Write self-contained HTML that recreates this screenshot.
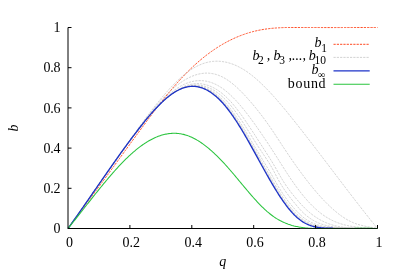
<!DOCTYPE html>
<html><head><meta charset="utf-8"><title>plot</title>
<style>
html,body{margin:0;padding:0;background:#fff;}
body{width:400px;height:280px;overflow:hidden;}
svg{display:block;}
text{font-family:"Liberation Serif",serif;fill:#000;}
.t{font-size:14px;}
.i{font-style:italic;}
.s{font-size:11.5px;font-style:normal;}
.g{fill:none;stroke:#b4b4b4;stroke-width:0.6;stroke-dasharray:2.2 1.1;}
</style></head><body>
<svg width="400" height="280" viewBox="0 0 400 280">
<rect x="0" y="0" width="400" height="280" fill="#fff"/>
<path d="M68.00,228.50 L68.97,227.17 L69.94,225.84 L70.91,224.52 L71.88,223.19 L72.85,221.87 L73.82,220.55 L74.79,219.23 L75.76,217.92 L76.73,216.60 L77.70,215.29 L78.67,213.98 L79.64,212.66 L80.61,211.35 L81.58,210.04 L82.55,208.73 L83.52,207.42 L84.49,206.12 L85.46,204.81 L86.43,203.50 L87.40,202.19 L88.37,200.89 L89.34,199.58 L90.32,198.27 L91.29,196.96 L92.26,195.65 L93.23,194.35 L94.20,193.04 L95.17,191.73 L96.14,190.42 L97.11,189.10 L98.08,187.79 L99.05,186.48 L100.02,185.16 L100.99,183.85 L101.96,182.53 L102.93,181.21 L103.90,179.89 L104.87,178.57 L105.84,177.24 L106.81,175.92 L107.78,174.59 L108.75,173.26 L109.72,171.93 L110.69,170.61 L111.66,169.27 L112.63,167.94 L113.60,166.61 L114.57,165.28 L115.54,163.94 L116.51,162.61 L117.48,161.28 L118.45,159.94 L119.42,158.61 L120.39,157.27 L121.36,155.94 L122.33,154.60 L123.30,153.26 L124.27,151.93 L125.24,150.59 L126.21,149.26 L127.18,147.92 L128.15,146.59 L129.12,145.25 L130.09,143.92 L131.06,142.59 L132.03,141.26 L133.00,139.92 L133.97,138.59 L134.95,137.26 L135.92,135.94 L136.89,134.61 L137.86,133.28 L138.83,131.96 L139.80,130.63 L140.77,129.31 L141.74,127.99 L142.71,126.67 L143.68,125.35 L144.65,124.04 L145.62,122.73 L146.59,121.42 L147.56,120.11 L148.53,118.81 L149.50,117.51 L150.47,116.21 L151.44,114.92 L152.41,113.63 L153.38,112.35 L154.35,111.07 L155.32,109.80 L156.29,108.53 L157.26,107.27 L158.23,106.01 L159.20,104.76 L160.17,103.51 L161.14,102.27 L162.11,101.04 L163.08,99.81 L164.05,98.60 L165.02,97.38 L165.99,96.18 L166.96,94.98 L167.93,93.80 L168.90,92.62 L169.87,91.45 L170.84,90.28 L171.81,89.13 L172.78,87.99 L173.75,86.85 L174.72,85.73 L175.69,84.61 L176.66,83.51 L177.63,82.41 L178.61,81.33 L179.58,80.25 L180.55,79.19 L181.52,78.14 L182.49,77.10 L183.46,76.08 L184.43,75.06 L185.40,74.06 L186.37,73.07 L187.34,72.09 L188.31,71.12 L189.28,70.17 L190.25,69.22 L191.22,68.29 L192.19,67.37 L193.16,66.46 L194.13,65.56 L195.10,64.68 L196.07,63.81 L197.04,62.94 L198.01,62.09 L198.98,61.25 L199.95,60.43 L200.92,59.61 L201.89,58.81 L202.86,58.01 L203.83,57.23 L204.80,56.46 L205.77,55.70 L206.74,54.95 L207.71,54.21 L208.68,53.49 L209.65,52.77 L210.62,52.07 L211.59,51.38 L212.56,50.70 L213.53,50.02 L214.50,49.37 L215.47,48.72 L216.44,48.08 L217.41,47.45 L218.38,46.83 L219.35,46.23 L220.32,45.63 L221.29,45.05 L222.26,44.48 L223.24,43.91 L224.21,43.36 L225.18,42.82 L226.15,42.29 L227.12,41.77 L228.09,41.26 L229.06,40.76 L230.03,40.27 L231.00,39.79 L231.97,39.32 L232.94,38.86 L233.91,38.42 L234.88,37.98 L235.85,37.55 L236.82,37.13 L237.79,36.72 L238.76,36.33 L239.73,35.94 L240.70,35.56 L241.67,35.19 L242.64,34.84 L243.61,34.49 L244.58,34.15 L245.55,33.82 L246.52,33.50 L247.49,33.19 L248.46,32.89 L249.43,32.60 L250.40,32.32 L251.37,32.05 L252.34,31.79 L253.31,31.53 L254.28,31.29 L255.25,31.05 L256.22,30.83 L257.19,30.61 L258.16,30.40 L259.13,30.20 L260.10,30.01 L261.07,29.83 L262.04,29.66 L263.01,29.49 L263.98,29.34 L264.95,29.19 L265.92,29.05 L266.89,28.91 L267.87,28.79 L268.84,28.67 L269.81,28.56 L270.78,28.45 L271.75,28.35 L272.72,28.26 L273.69,28.17 L274.66,28.09 L275.63,28.02 L276.60,27.95 L277.57,27.88 L278.54,27.82 L279.51,27.77 L280.48,27.72 L281.45,27.67 L282.42,27.63 L283.39,27.59 L284.36,27.56 L285.33,27.53 L286.30,27.50 L287.27,27.50 L288.24,27.50 L289.21,27.50 L290.18,27.50 L291.15,27.50 L292.12,27.50 L293.09,27.50 L294.06,27.50 L295.03,27.50 L296.00,27.50 L296.97,27.50 L297.94,27.50 L298.91,27.50 L299.88,27.50 L300.85,27.50 L301.82,27.50 L302.79,27.50 L303.76,27.50 L304.73,27.50 L305.70,27.50 L306.67,27.50 L307.64,27.50 L308.61,27.50 L309.58,27.50 L310.55,27.50 L311.53,27.50 L312.50,27.50 L313.47,27.50 L314.44,27.50 L315.41,27.50 L316.38,27.50 L317.35,27.51 L318.32,27.52 L319.29,27.53 L320.26,27.54 L321.23,27.54 L322.20,27.55 L323.17,27.55 L324.14,27.56 L325.11,27.56 L326.08,27.56 L327.05,27.57 L328.02,27.57 L328.99,27.57 L329.96,27.57 L330.93,27.57 L331.90,27.57 L332.87,27.57 L333.84,27.57 L334.81,27.57 L335.78,27.56 L336.75,27.56 L337.72,27.56 L338.69,27.56 L339.66,27.55 L340.63,27.55 L341.60,27.55 L342.57,27.54 L343.54,27.54 L344.51,27.53 L345.48,27.53 L346.45,27.53 L347.42,27.52 L348.39,27.52 L349.36,27.51 L350.33,27.51 L351.30,27.50 L352.27,27.50 L353.24,27.50 L354.21,27.50 L355.18,27.50 L356.16,27.50 L357.13,27.50 L358.10,27.50 L359.07,27.50 L360.04,27.50 L361.01,27.50 L361.98,27.50 L362.95,27.50 L363.92,27.50 L364.89,27.50 L365.86,27.50 L366.83,27.50 L367.80,27.50 L368.77,27.50 L369.74,27.50 L370.71,27.50 L371.68,27.50 L372.65,27.50 L373.62,27.50 L374.59,27.50 L375.56,27.50 L376.53,27.50 L377.50,27.50" fill="none" stroke="#ff4a22" stroke-width="1" stroke-dasharray="2.2 1.1"/>
<path class="g" d="M68.00,228.50 L68.97,227.14 L69.94,225.78 L70.91,224.41 L71.88,223.05 L72.85,221.68 L73.82,220.31 L74.79,218.94 L75.76,217.56 L76.73,216.19 L77.70,214.82 L78.67,213.44 L79.64,212.06 L80.61,210.68 L81.58,209.30 L82.55,207.92 L83.52,206.53 L84.49,205.15 L85.46,203.76 L86.43,202.38 L87.40,200.99 L88.37,199.60 L89.34,198.21 L90.32,196.82 L91.29,195.43 L92.26,194.04 L93.23,192.65 L94.20,191.26 L95.17,189.87 L96.14,188.47 L97.11,187.08 L98.08,185.69 L99.05,184.29 L100.02,182.90 L100.99,181.51 L101.96,180.11 L102.93,178.72 L103.90,177.32 L104.87,175.93 L105.84,174.53 L106.81,173.14 L107.78,171.75 L108.75,170.35 L109.72,168.96 L110.69,167.57 L111.66,166.17 L112.63,164.78 L113.60,163.39 L114.57,162.00 L115.54,160.61 L116.51,159.22 L117.48,157.83 L118.45,156.45 L119.42,155.06 L120.39,153.67 L121.36,152.29 L122.33,150.90 L123.30,149.52 L124.27,148.14 L125.24,146.76 L126.21,145.38 L127.18,144.00 L128.15,142.63 L129.12,141.25 L130.09,139.88 L131.06,138.51 L132.03,137.14 L133.00,135.77 L133.97,134.41 L134.95,133.05 L135.92,131.69 L136.89,130.33 L137.86,128.98 L138.83,127.64 L139.80,126.30 L140.77,124.96 L141.74,123.63 L142.71,122.30 L143.68,120.98 L144.65,119.67 L145.62,118.36 L146.59,117.06 L147.56,115.76 L148.53,114.47 L149.50,113.19 L150.47,111.92 L151.44,110.65 L152.41,109.39 L153.38,108.15 L154.35,106.90 L155.32,105.67 L156.29,104.45 L157.26,103.24 L158.23,102.03 L159.20,100.84 L160.17,99.66 L161.14,98.49 L162.11,97.32 L163.08,96.18 L164.05,95.04 L165.02,93.91 L165.99,92.80 L166.96,91.70 L167.93,90.61 L168.90,89.54 L169.87,88.48 L170.84,87.44 L171.81,86.41 L172.78,85.39 L173.75,84.39 L174.72,83.41 L175.69,82.45 L176.66,81.50 L177.63,80.57 L178.61,79.65 L179.58,78.76 L180.55,77.88 L181.52,77.02 L182.49,76.18 L183.46,75.37 L184.43,74.57 L185.40,73.79 L186.37,73.03 L187.34,72.29 L188.31,71.58 L189.28,70.88 L190.25,70.21 L191.22,69.56 L192.19,68.94 L193.16,68.34 L194.13,67.76 L195.10,67.21 L196.07,66.68 L197.04,66.18 L198.01,65.70 L198.98,65.24 L199.95,64.81 L200.92,64.41 L201.89,64.03 L202.86,63.67 L203.83,63.34 L204.80,63.04 L205.77,62.75 L206.74,62.49 L207.71,62.26 L208.68,62.05 L209.65,61.86 L210.62,61.70 L211.59,61.56 L212.56,61.44 L213.53,61.35 L214.50,61.28 L215.47,61.23 L216.44,61.21 L217.41,61.21 L218.38,61.23 L219.35,61.28 L220.32,61.35 L221.29,61.44 L222.26,61.55 L223.24,61.69 L224.21,61.84 L225.18,62.02 L226.15,62.23 L227.12,62.45 L228.09,62.70 L229.06,62.97 L230.03,63.26 L231.00,63.57 L231.97,63.90 L232.94,64.26 L233.91,64.64 L234.88,65.03 L235.85,65.45 L236.82,65.89 L237.79,66.36 L238.76,66.84 L239.73,67.34 L240.70,67.87 L241.67,68.41 L242.64,68.98 L243.61,69.56 L244.58,70.17 L245.55,70.79 L246.52,71.44 L247.49,72.11 L248.46,72.79 L249.43,73.50 L250.40,74.23 L251.37,74.97 L252.34,75.73 L253.31,76.51 L254.28,77.31 L255.25,78.12 L256.22,78.95 L257.19,79.80 L258.16,80.67 L259.13,81.55 L260.10,82.44 L261.07,83.35 L262.04,84.28 L263.01,85.22 L263.98,86.17 L264.95,87.14 L265.92,88.12 L266.89,89.11 L267.87,90.12 L268.84,91.14 L269.81,92.17 L270.78,93.21 L271.75,94.26 L272.72,95.33 L273.69,96.40 L274.66,97.48 L275.63,98.58 L276.60,99.68 L277.57,100.80 L278.54,101.92 L279.51,103.05 L280.48,104.19 L281.45,105.33 L282.42,106.49 L283.39,107.65 L284.36,108.81 L285.33,109.99 L286.30,111.17 L287.27,112.35 L288.24,113.54 L289.21,114.74 L290.18,115.93 L291.15,117.14 L292.12,118.35 L293.09,119.56 L294.06,120.77 L295.03,121.99 L296.00,123.21 L296.97,124.43 L297.94,125.66 L298.91,126.89 L299.88,128.12 L300.85,129.35 L301.82,130.59 L302.79,131.83 L303.76,133.07 L304.73,134.32 L305.70,135.56 L306.67,136.81 L307.64,138.06 L308.61,139.32 L309.58,140.57 L310.55,141.83 L311.53,143.09 L312.50,144.35 L313.47,145.61 L314.44,146.87 L315.41,148.14 L316.38,149.40 L317.35,150.67 L318.32,151.94 L319.29,153.21 L320.26,154.48 L321.23,155.76 L322.20,157.03 L323.17,158.30 L324.14,159.58 L325.11,160.85 L326.08,162.13 L327.05,163.41 L328.02,164.68 L328.99,165.96 L329.96,167.24 L330.93,168.52 L331.90,169.80 L332.87,171.07 L333.84,172.35 L334.81,173.63 L335.78,174.91 L336.75,176.19 L337.72,177.46 L338.69,178.74 L339.66,180.01 L340.63,181.29 L341.60,182.57 L342.57,183.84 L343.54,185.11 L344.51,186.38 L345.48,187.66 L346.45,188.93 L347.42,190.19 L348.39,191.46 L349.36,192.73 L350.33,193.99 L351.30,195.26 L352.27,196.52 L353.24,197.78 L354.21,199.04 L355.18,200.29 L356.16,201.55 L357.13,202.80 L358.10,204.05 L359.07,205.30 L360.04,206.54 L361.01,207.79 L361.98,209.03 L362.95,210.27 L363.92,211.50 L364.89,212.74 L365.86,213.97 L366.83,215.20 L367.80,216.42 L368.77,217.65 L369.74,218.86 L370.71,220.08 L371.68,221.29 L372.65,222.50 L373.62,223.71 L374.59,224.91 L375.56,226.11 L376.53,227.31 L377.50,228.50"/>
<path class="g" d="M68.00,228.50 L68.97,227.12 L69.94,225.75 L70.91,224.37 L71.88,222.99 L72.85,221.62 L73.82,220.24 L74.79,218.86 L75.76,217.48 L76.73,216.10 L77.70,214.72 L78.67,213.34 L79.64,211.96 L80.61,210.58 L81.58,209.20 L82.55,207.82 L83.52,206.43 L84.49,205.05 L85.46,203.67 L86.43,202.29 L87.40,200.90 L88.37,199.52 L89.34,198.14 L90.32,196.75 L91.29,195.37 L92.26,193.99 L93.23,192.60 L94.20,191.22 L95.17,189.83 L96.14,188.45 L97.11,187.06 L98.08,185.68 L99.05,184.29 L100.02,182.91 L100.99,181.52 L101.96,180.14 L102.93,178.75 L103.90,177.37 L104.87,175.98 L105.84,174.60 L106.81,173.21 L107.78,171.83 L108.75,170.44 L109.72,169.06 L110.69,167.67 L111.66,166.29 L112.63,164.90 L113.60,163.52 L114.57,162.13 L115.54,160.75 L116.51,159.36 L117.48,157.98 L118.45,156.60 L119.42,155.21 L120.39,153.83 L121.36,152.45 L122.33,151.06 L123.30,149.68 L124.27,148.30 L125.24,146.92 L126.21,145.54 L127.18,144.17 L128.15,142.80 L129.12,141.43 L130.09,140.06 L131.06,138.70 L132.03,137.34 L133.00,135.99 L133.97,134.64 L134.95,133.30 L135.92,131.96 L136.89,130.63 L137.86,129.30 L138.83,127.98 L139.80,126.67 L140.77,125.37 L141.74,124.07 L142.71,122.78 L143.68,121.50 L144.65,120.23 L145.62,118.97 L146.59,117.72 L147.56,116.47 L148.53,115.24 L149.50,114.02 L150.47,112.81 L151.44,111.61 L152.41,110.42 L153.38,109.25 L154.35,108.08 L155.32,106.93 L156.29,105.80 L157.26,104.67 L158.23,103.57 L159.20,102.47 L160.17,101.39 L161.14,100.33 L162.11,99.28 L163.08,98.24 L164.05,97.22 L165.02,96.22 L165.99,95.24 L166.96,94.27 L167.93,93.32 L168.90,92.39 L169.87,91.47 L170.84,90.58 L171.81,89.70 L172.78,88.85 L173.75,88.01 L174.72,87.19 L175.69,86.40 L176.66,85.62 L177.63,84.87 L178.61,84.13 L179.58,83.42 L180.55,82.73 L181.52,82.06 L182.49,81.41 L183.46,80.79 L184.43,80.19 L185.40,79.61 L186.37,79.05 L187.34,78.52 L188.31,78.01 L189.28,77.52 L190.25,77.06 L191.22,76.62 L192.19,76.21 L193.16,75.82 L194.13,75.46 L195.10,75.12 L196.07,74.81 L197.04,74.52 L198.01,74.26 L198.98,74.02 L199.95,73.82 L200.92,73.64 L201.89,73.48 L202.86,73.35 L203.83,73.26 L204.80,73.18 L205.77,73.14 L206.74,73.12 L207.71,73.14 L208.68,73.18 L209.65,73.25 L210.62,73.35 L211.59,73.48 L212.56,73.64 L213.53,73.83 L214.50,74.05 L215.47,74.30 L216.44,74.58 L217.41,74.89 L218.38,75.23 L219.35,75.61 L220.32,76.01 L221.29,76.45 L222.26,76.92 L223.24,77.42 L224.21,77.95 L225.18,78.52 L226.15,79.11 L227.12,79.73 L228.09,80.38 L229.06,81.06 L230.03,81.76 L231.00,82.49 L231.97,83.25 L232.94,84.03 L233.91,84.84 L234.88,85.67 L235.85,86.52 L236.82,87.40 L237.79,88.29 L238.76,89.21 L239.73,90.15 L240.70,91.12 L241.67,92.09 L242.64,93.09 L243.61,94.11 L244.58,95.14 L245.55,96.19 L246.52,97.25 L247.49,98.33 L248.46,99.41 L249.43,100.52 L250.40,101.63 L251.37,102.75 L252.34,103.89 L253.31,105.04 L254.28,106.21 L255.25,107.38 L256.22,108.57 L257.19,109.78 L258.16,110.99 L259.13,112.23 L260.10,113.47 L261.07,114.73 L262.04,116.00 L263.01,117.29 L263.98,118.59 L264.95,119.91 L265.92,121.24 L266.89,122.59 L267.87,123.96 L268.84,125.34 L269.81,126.73 L270.78,128.14 L271.75,129.57 L272.72,131.01 L273.69,132.45 L274.66,133.91 L275.63,135.38 L276.60,136.85 L277.57,138.33 L278.54,139.81 L279.51,141.29 L280.48,142.77 L281.45,144.25 L282.42,145.73 L283.39,147.20 L284.36,148.67 L285.33,150.14 L286.30,151.59 L287.27,153.04 L288.24,154.49 L289.21,155.92 L290.18,157.35 L291.15,158.76 L292.12,160.17 L293.09,161.57 L294.06,162.97 L295.03,164.35 L296.00,165.72 L296.97,167.09 L297.94,168.44 L298.91,169.78 L299.88,171.12 L300.85,172.44 L301.82,173.76 L302.79,175.06 L303.76,176.35 L304.73,177.63 L305.70,178.90 L306.67,180.16 L307.64,181.41 L308.61,182.65 L309.58,183.87 L310.55,185.08 L311.53,186.28 L312.50,187.47 L313.47,188.64 L314.44,189.80 L315.41,190.95 L316.38,192.09 L317.35,193.21 L318.32,194.32 L319.29,195.41 L320.26,196.49 L321.23,197.56 L322.20,198.61 L323.17,199.64 L324.14,200.67 L325.11,201.67 L326.08,202.66 L327.05,203.64 L328.02,204.60 L328.99,205.54 L329.96,206.46 L330.93,207.37 L331.90,208.26 L332.87,209.13 L333.84,209.98 L334.81,210.82 L335.78,211.63 L336.75,212.43 L337.72,213.21 L338.69,213.96 L339.66,214.70 L340.63,215.41 L341.60,216.11 L342.57,216.78 L343.54,217.43 L344.51,218.06 L345.48,218.67 L346.45,219.25 L347.42,219.81 L348.39,220.35 L349.36,220.87 L350.33,221.36 L351.30,221.82 L352.27,222.26 L353.24,222.68 L354.21,223.07 L355.18,223.44 L356.16,223.79 L357.13,224.12 L358.10,224.43 L359.07,224.72 L360.04,224.99 L361.01,225.25 L361.98,225.49 L362.95,225.72 L363.92,225.94 L364.89,226.15 L365.86,226.35 L366.83,226.55 L367.80,226.73 L368.77,226.91 L369.74,227.09 L370.71,227.26 L371.68,227.43 L372.65,227.61 L373.62,227.78 L374.59,227.95 L375.56,228.13 L376.53,228.31 L377.50,228.50"/>
<path class="g" d="M68.00,228.50 L68.97,227.13 L69.94,225.77 L70.91,224.40 L71.88,223.03 L72.85,221.66 L73.82,220.28 L74.79,218.91 L75.76,217.53 L76.73,216.16 L77.70,214.78 L78.67,213.40 L79.64,212.02 L80.61,210.63 L81.58,209.25 L82.55,207.87 L83.52,206.48 L84.49,205.10 L85.46,203.71 L86.43,202.33 L87.40,200.94 L88.37,199.55 L89.34,198.16 L90.32,196.78 L91.29,195.39 L92.26,194.00 L93.23,192.61 L94.20,191.22 L95.17,189.84 L96.14,188.45 L97.11,187.06 L98.08,185.67 L99.05,184.29 L100.02,182.90 L100.99,181.51 L101.96,180.13 L102.93,178.74 L103.90,177.36 L104.87,175.97 L105.84,174.59 L106.81,173.21 L107.78,171.83 L108.75,170.45 L109.72,169.07 L110.69,167.70 L111.66,166.32 L112.63,164.95 L113.60,163.57 L114.57,162.20 L115.54,160.83 L116.51,159.46 L117.48,158.10 L118.45,156.73 L119.42,155.37 L120.39,154.01 L121.36,152.65 L122.33,151.29 L123.30,149.94 L124.27,148.59 L125.24,147.24 L126.21,145.89 L127.18,144.55 L128.15,143.20 L129.12,141.86 L130.09,140.53 L131.06,139.19 L132.03,137.86 L133.00,136.54 L133.97,135.22 L134.95,133.90 L135.92,132.59 L136.89,131.29 L137.86,129.99 L138.83,128.70 L139.80,127.42 L140.77,126.14 L141.74,124.87 L142.71,123.62 L143.68,122.37 L144.65,121.13 L145.62,119.90 L146.59,118.68 L147.56,117.47 L148.53,116.28 L149.50,115.09 L150.47,113.92 L151.44,112.76 L152.41,111.61 L153.38,110.48 L154.35,109.36 L155.32,108.26 L156.29,107.17 L157.26,106.10 L158.23,105.04 L159.20,104.00 L160.17,102.98 L161.14,101.97 L162.11,100.99 L163.08,100.02 L164.05,99.07 L165.02,98.13 L165.99,97.22 L166.96,96.33 L167.93,95.46 L168.90,94.61 L169.87,93.78 L170.84,92.97 L171.81,92.19 L172.78,91.42 L173.75,90.69 L174.72,89.97 L175.69,89.28 L176.66,88.61 L177.63,87.97 L178.61,87.36 L179.58,86.77 L180.55,86.20 L181.52,85.67 L182.49,85.16 L183.46,84.67 L184.43,84.22 L185.40,83.78 L186.37,83.38 L187.34,83.00 L188.31,82.65 L189.28,82.33 L190.25,82.04 L191.22,81.77 L192.19,81.53 L193.16,81.32 L194.13,81.13 L195.10,80.98 L196.07,80.85 L197.04,80.75 L198.01,80.67 L198.98,80.63 L199.95,80.61 L200.92,80.62 L201.89,80.66 L202.86,80.73 L203.83,80.83 L204.80,80.96 L205.77,81.11 L206.74,81.30 L207.71,81.51 L208.68,81.75 L209.65,82.02 L210.62,82.32 L211.59,82.65 L212.56,83.02 L213.53,83.41 L214.50,83.83 L215.47,84.28 L216.44,84.75 L217.41,85.26 L218.38,85.80 L219.35,86.38 L220.32,86.98 L221.29,87.61 L222.26,88.27 L223.24,88.96 L224.21,89.68 L225.18,90.43 L226.15,91.21 L227.12,92.02 L228.09,92.85 L229.06,93.71 L230.03,94.59 L231.00,95.50 L231.97,96.44 L232.94,97.40 L233.91,98.38 L234.88,99.39 L235.85,100.42 L236.82,101.47 L237.79,102.54 L238.76,103.63 L239.73,104.75 L240.70,105.88 L241.67,107.03 L242.64,108.20 L243.61,109.39 L244.58,110.59 L245.55,111.81 L246.52,113.05 L247.49,114.31 L248.46,115.57 L249.43,116.86 L250.40,118.15 L251.37,119.46 L252.34,120.78 L253.31,122.12 L254.28,123.46 L255.25,124.82 L256.22,126.18 L257.19,127.56 L258.16,128.95 L259.13,130.34 L260.10,131.75 L261.07,133.16 L262.04,134.58 L263.01,136.01 L263.98,137.45 L264.95,138.90 L265.92,140.35 L266.89,141.81 L267.87,143.28 L268.84,144.76 L269.81,146.24 L270.78,147.73 L271.75,149.23 L272.72,150.74 L273.69,152.25 L274.66,153.76 L275.63,155.29 L276.60,156.81 L277.57,158.34 L278.54,159.87 L279.51,161.41 L280.48,162.94 L281.45,164.47 L282.42,166.00 L283.39,167.52 L284.36,169.05 L285.33,170.56 L286.30,172.07 L287.27,173.56 L288.24,175.05 L289.21,176.52 L290.18,177.98 L291.15,179.42 L292.12,180.84 L293.09,182.24 L294.06,183.62 L295.03,184.99 L296.00,186.33 L296.97,187.66 L297.94,188.96 L298.91,190.24 L299.88,191.51 L300.85,192.75 L301.82,193.97 L302.79,195.17 L303.76,196.35 L304.73,197.51 L305.70,198.65 L306.67,199.76 L307.64,200.85 L308.61,201.92 L309.58,202.96 L310.55,203.98 L311.53,204.98 L312.50,205.96 L313.47,206.91 L314.44,207.83 L315.41,208.73 L316.38,209.61 L317.35,210.46 L318.32,211.29 L319.29,212.09 L320.26,212.86 L321.23,213.61 L322.20,214.33 L323.17,215.03 L324.14,215.70 L325.11,216.35 L326.08,216.97 L327.05,217.57 L328.02,218.14 L328.99,218.70 L329.96,219.23 L330.93,219.74 L331.90,220.22 L332.87,220.69 L333.84,221.14 L334.81,221.56 L335.78,221.97 L336.75,222.36 L337.72,222.73 L338.69,223.08 L339.66,223.42 L340.63,223.74 L341.60,224.04 L342.57,224.33 L343.54,224.60 L344.51,224.85 L345.48,225.10 L346.45,225.33 L347.42,225.54 L348.39,225.75 L349.36,225.94 L350.33,226.12 L351.30,226.29 L352.27,226.45 L353.24,226.59 L354.21,226.73 L355.18,226.86 L356.16,226.98 L357.13,227.10 L358.10,227.20 L359.07,227.30 L360.04,227.39 L361.01,227.48 L361.98,227.56 L362.95,227.63 L363.92,227.70 L364.89,227.77 L365.86,227.83 L366.83,227.89 L367.80,227.95 L368.77,228.01 L369.74,228.06 L370.71,228.11 L371.68,228.17 L372.65,228.22 L373.62,228.27 L374.59,228.33 L375.56,228.38 L376.53,228.44 L377.50,228.50"/>
<path class="g" d="M68.00,228.50 L68.97,227.13 L69.94,225.77 L70.91,224.40 L71.88,223.03 L72.85,221.66 L73.82,220.28 L74.79,218.91 L75.76,217.54 L76.73,216.16 L77.70,214.79 L78.67,213.41 L79.64,212.03 L80.61,210.66 L81.58,209.28 L82.55,207.90 L83.52,206.52 L84.49,205.14 L85.46,203.76 L86.43,202.38 L87.40,201.00 L88.37,199.62 L89.34,198.24 L90.32,196.86 L91.29,195.48 L92.26,194.10 L93.23,192.72 L94.20,191.34 L95.17,189.96 L96.14,188.58 L97.11,187.20 L98.08,185.82 L99.05,184.44 L100.02,183.06 L100.99,181.69 L101.96,180.31 L102.93,178.94 L103.90,177.56 L104.87,176.19 L105.84,174.81 L106.81,173.44 L107.78,172.07 L108.75,170.70 L109.72,169.33 L110.69,167.97 L111.66,166.60 L112.63,165.23 L113.60,163.87 L114.57,162.51 L115.54,161.15 L116.51,159.79 L117.48,158.43 L118.45,157.08 L119.42,155.72 L120.39,154.37 L121.36,153.02 L122.33,151.67 L123.30,150.33 L124.27,148.98 L125.24,147.64 L126.21,146.30 L127.18,144.96 L128.15,143.63 L129.12,142.29 L130.09,140.96 L131.06,139.64 L132.03,138.32 L133.00,137.00 L133.97,135.69 L134.95,134.38 L135.92,133.08 L136.89,131.78 L137.86,130.50 L138.83,129.22 L139.80,127.94 L140.77,126.68 L141.74,125.42 L142.71,124.18 L143.68,122.94 L144.65,121.72 L145.62,120.50 L146.59,119.30 L147.56,118.11 L148.53,116.93 L149.50,115.76 L150.47,114.61 L151.44,113.47 L152.41,112.34 L153.38,111.23 L154.35,110.14 L155.32,109.06 L156.29,107.99 L157.26,106.94 L158.23,105.91 L159.20,104.90 L160.17,103.91 L161.14,102.93 L162.11,101.97 L163.08,101.03 L164.05,100.12 L165.02,99.22 L165.99,98.34 L166.96,97.49 L167.93,96.65 L168.90,95.84 L169.87,95.05 L170.84,94.29 L171.81,93.55 L172.78,92.83 L173.75,92.14 L174.72,91.47 L175.69,90.83 L176.66,90.21 L177.63,89.62 L178.61,89.06 L179.58,88.53 L180.55,88.02 L181.52,87.54 L182.49,87.09 L183.46,86.66 L184.43,86.26 L185.40,85.89 L186.37,85.55 L187.34,85.24 L188.31,84.95 L189.28,84.69 L190.25,84.46 L191.22,84.26 L192.19,84.09 L193.16,83.95 L194.13,83.83 L195.10,83.75 L196.07,83.69 L197.04,83.66 L198.01,83.66 L198.98,83.69 L199.95,83.75 L200.92,83.84 L201.89,83.96 L202.86,84.11 L203.83,84.29 L204.80,84.50 L205.77,84.74 L206.74,85.01 L207.71,85.31 L208.68,85.64 L209.65,86.01 L210.62,86.40 L211.59,86.82 L212.56,87.28 L213.53,87.76 L214.50,88.28 L215.47,88.83 L216.44,89.41 L217.41,90.02 L218.38,90.66 L219.35,91.33 L220.32,92.04 L221.29,92.78 L222.26,93.55 L223.24,94.35 L224.21,95.19 L225.18,96.06 L226.15,96.96 L227.12,97.89 L228.09,98.86 L229.06,99.86 L230.03,100.89 L231.00,101.95 L231.97,103.05 L232.94,104.17 L233.91,105.32 L234.88,106.50 L235.85,107.71 L236.82,108.94 L237.79,110.20 L238.76,111.47 L239.73,112.77 L240.70,114.09 L241.67,115.43 L242.64,116.79 L243.61,118.17 L244.58,119.56 L245.55,120.97 L246.52,122.39 L247.49,123.83 L248.46,125.27 L249.43,126.73 L250.40,128.20 L251.37,129.68 L252.34,131.16 L253.31,132.65 L254.28,134.15 L255.25,135.65 L256.22,137.15 L257.19,138.66 L258.16,140.17 L259.13,141.68 L260.10,143.18 L261.07,144.69 L262.04,146.19 L263.01,147.69 L263.98,149.19 L264.95,150.69 L265.92,152.19 L266.89,153.70 L267.87,155.22 L268.84,156.75 L269.81,158.30 L270.78,159.86 L271.75,161.43 L272.72,163.03 L273.69,164.65 L274.66,166.30 L275.63,167.97 L276.60,169.67 L277.57,171.39 L278.54,173.12 L279.51,174.84 L280.48,176.55 L281.45,178.22 L282.42,179.84 L283.39,181.42 L284.36,182.94 L285.33,184.42 L286.30,185.85 L287.27,187.24 L288.24,188.59 L289.21,189.91 L290.18,191.20 L291.15,192.45 L292.12,193.69 L293.09,194.90 L294.06,196.09 L295.03,197.26 L296.00,198.42 L296.97,199.57 L297.94,200.71 L298.91,201.83 L299.88,202.93 L300.85,204.02 L301.82,205.08 L302.79,206.10 L303.76,207.10 L304.73,208.07 L305.70,209.01 L306.67,209.93 L307.64,210.81 L308.61,211.66 L309.58,212.49 L310.55,213.29 L311.53,214.06 L312.50,214.81 L313.47,215.53 L314.44,216.22 L315.41,216.89 L316.38,217.54 L317.35,218.16 L318.32,218.76 L319.29,219.33 L320.26,219.88 L321.23,220.41 L322.20,220.91 L323.17,221.40 L324.14,221.86 L325.11,222.30 L326.08,222.72 L327.05,223.12 L328.02,223.50 L328.99,223.87 L329.96,224.21 L330.93,224.54 L331.90,224.84 L332.87,225.13 L333.84,225.41 L334.81,225.66 L335.78,225.90 L336.75,226.13 L337.72,226.34 L338.69,226.53 L339.66,226.72 L340.63,226.88 L341.60,227.04 L342.57,227.18 L343.54,227.31 L344.51,227.43 L345.48,227.54 L346.45,227.64 L347.42,227.73 L348.39,227.81 L349.36,227.88 L350.33,227.94 L351.30,228.00 L352.27,228.04 L353.24,228.08 L354.21,228.12 L355.18,228.15 L356.16,228.17 L357.13,228.19 L358.10,228.21 L359.07,228.22 L360.04,228.23 L361.01,228.24 L361.98,228.24 L362.95,228.25 L363.92,228.25 L364.89,228.25 L365.86,228.26 L366.83,228.26 L367.80,228.27 L368.77,228.27 L369.74,228.28 L370.71,228.29 L371.68,228.31 L372.65,228.33 L373.62,228.35 L374.59,228.38 L375.56,228.41 L376.53,228.45 L377.50,228.50"/>
<path class="g" d="M68.00,228.50 L68.97,227.14 L69.94,225.79 L70.91,224.43 L71.88,223.06 L72.85,221.70 L73.82,220.33 L74.79,218.97 L75.76,217.60 L76.73,216.23 L77.70,214.86 L78.67,213.48 L79.64,212.11 L80.61,210.73 L81.58,209.36 L82.55,207.98 L83.52,206.60 L84.49,205.22 L85.46,203.84 L86.43,202.46 L87.40,201.08 L88.37,199.70 L89.34,198.32 L90.32,196.94 L91.29,195.56 L92.26,194.17 L93.23,192.79 L94.20,191.41 L95.17,190.03 L96.14,188.64 L97.11,187.26 L98.08,185.88 L99.05,184.50 L100.02,183.12 L100.99,181.74 L101.96,180.36 L102.93,178.98 L103.90,177.60 L104.87,176.23 L105.84,174.85 L106.81,173.48 L107.78,172.10 L108.75,170.73 L109.72,169.36 L110.69,167.99 L111.66,166.63 L112.63,165.26 L113.60,163.90 L114.57,162.53 L115.54,161.17 L116.51,159.81 L117.48,158.46 L118.45,157.10 L119.42,155.75 L120.39,154.40 L121.36,153.05 L122.33,151.71 L123.30,150.36 L124.27,149.02 L125.24,147.69 L126.21,146.35 L127.18,145.02 L128.15,143.69 L129.12,142.37 L130.09,141.05 L131.06,139.73 L132.03,138.42 L133.00,137.11 L133.97,135.81 L134.95,134.51 L135.92,133.23 L136.89,131.95 L137.86,130.67 L138.83,129.41 L139.80,128.15 L140.77,126.90 L141.74,125.66 L142.71,124.43 L143.68,123.22 L144.65,122.01 L145.62,120.81 L146.59,119.63 L147.56,118.45 L148.53,117.29 L149.50,116.15 L150.47,115.01 L151.44,113.89 L152.41,112.78 L153.38,111.69 L154.35,110.62 L155.32,109.56 L156.29,108.51 L157.26,107.48 L158.23,106.47 L159.20,105.48 L160.17,104.50 L161.14,103.55 L162.11,102.61 L163.08,101.69 L164.05,100.79 L165.02,99.91 L165.99,99.05 L166.96,98.21 L167.93,97.40 L168.90,96.60 L169.87,95.83 L170.84,95.08 L171.81,94.36 L172.78,93.65 L173.75,92.97 L174.72,92.32 L175.69,91.69 L176.66,91.09 L177.63,90.51 L178.61,89.96 L179.58,89.44 L180.55,88.94 L181.52,88.47 L182.49,88.03 L183.46,87.62 L184.43,87.24 L185.40,86.89 L186.37,86.56 L187.34,86.27 L188.31,86.01 L189.28,85.77 L190.25,85.57 L191.22,85.40 L192.19,85.26 L193.16,85.15 L194.13,85.07 L195.10,85.02 L196.07,85.01 L197.04,85.02 L198.01,85.07 L198.98,85.14 L199.95,85.25 L200.92,85.39 L201.89,85.56 L202.86,85.76 L203.83,86.00 L204.80,86.27 L205.77,86.56 L206.74,86.89 L207.71,87.26 L208.68,87.65 L209.65,88.08 L210.62,88.54 L211.59,89.03 L212.56,89.55 L213.53,90.11 L214.50,90.70 L215.47,91.33 L216.44,91.98 L217.41,92.67 L218.38,93.39 L219.35,94.15 L220.32,94.94 L221.29,95.76 L222.26,96.61 L223.24,97.50 L224.21,98.43 L225.18,99.38 L226.15,100.38 L227.12,101.40 L228.09,102.46 L229.06,103.55 L230.03,104.68 L231.00,105.84 L231.97,107.04 L232.94,108.27 L233.91,109.53 L234.88,110.82 L235.85,112.14 L236.82,113.48 L237.79,114.85 L238.76,116.25 L239.73,117.66 L240.70,119.10 L241.67,120.55 L242.64,122.02 L243.61,123.51 L244.58,125.01 L245.55,126.52 L246.52,128.04 L247.49,129.57 L248.46,131.10 L249.43,132.64 L250.40,134.18 L251.37,135.73 L252.34,137.27 L253.31,138.82 L254.28,140.36 L255.25,141.89 L256.22,143.42 L257.19,144.94 L258.16,146.45 L259.13,147.95 L260.10,149.44 L261.07,150.91 L262.04,152.36 L263.01,153.80 L263.98,155.23 L264.95,156.66 L265.92,158.11 L266.89,159.57 L267.87,161.05 L268.84,162.57 L269.81,164.14 L270.78,165.75 L271.75,167.43 L272.72,169.17 L273.69,170.97 L274.66,172.82 L275.63,174.68 L276.60,176.54 L277.57,178.37 L278.54,180.15 L279.51,181.86 L280.48,183.52 L281.45,185.12 L282.42,186.67 L283.39,188.18 L284.36,189.64 L285.33,191.05 L286.30,192.43 L287.27,193.77 L288.24,195.08 L289.21,196.36 L290.18,197.61 L291.15,198.84 L292.12,200.06 L293.09,201.25 L294.06,202.43 L295.03,203.61 L296.00,204.77 L296.97,205.93 L297.94,207.08 L298.91,208.21 L299.88,209.31 L300.85,210.37 L301.82,211.38 L302.79,212.34 L303.76,213.27 L304.73,214.16 L305.70,215.00 L306.67,215.81 L307.64,216.58 L308.61,217.31 L309.58,218.01 L310.55,218.67 L311.53,219.30 L312.50,219.90 L313.47,220.47 L314.44,221.00 L315.41,221.51 L316.38,221.99 L317.35,222.44 L318.32,222.86 L319.29,223.26 L320.26,223.64 L321.23,223.99 L322.20,224.32 L323.17,224.63 L324.14,224.92 L325.11,225.19 L326.08,225.44 L327.05,225.68 L328.02,225.90 L328.99,226.10 L329.96,226.29 L330.93,226.47 L331.90,226.64 L332.87,226.79 L333.84,226.94 L334.81,227.07 L335.78,227.20 L336.75,227.31 L337.72,227.42 L338.69,227.52 L339.66,227.61 L340.63,227.69 L341.60,227.77 L342.57,227.84 L343.54,227.90 L344.51,227.95 L345.48,228.00 L346.45,228.05 L347.42,228.08 L348.39,228.12 L349.36,228.14 L350.33,228.17 L351.30,228.19 L352.27,228.20 L353.24,228.22 L354.21,228.23 L355.18,228.23 L356.16,228.24 L357.13,228.24 L358.10,228.24 L359.07,228.24 L360.04,228.24 L361.01,228.24 L361.98,228.24 L362.95,228.24 L363.92,228.24 L364.89,228.24 L365.86,228.24 L366.83,228.25 L367.80,228.25 L368.77,228.26 L369.74,228.27 L370.71,228.29 L371.68,228.30 L372.65,228.32 L373.62,228.35 L374.59,228.38 L375.56,228.41 L376.53,228.45 L377.50,228.50"/>
<path class="g" d="M68.00,228.50 L68.97,227.15 L69.94,225.79 L70.91,224.43 L71.88,223.07 L72.85,221.71 L73.82,220.34 L74.79,218.97 L75.76,217.60 L76.73,216.22 L77.70,214.85 L78.67,213.47 L79.64,212.09 L80.61,210.71 L81.58,209.33 L82.55,207.94 L83.52,206.56 L84.49,205.17 L85.46,203.78 L86.43,202.39 L87.40,201.00 L88.37,199.61 L89.34,198.22 L90.32,196.83 L91.29,195.43 L92.26,194.04 L93.23,192.65 L94.20,191.25 L95.17,189.86 L96.14,188.47 L97.11,187.07 L98.08,185.68 L99.05,184.29 L100.02,182.90 L100.99,181.51 L101.96,180.12 L102.93,178.73 L103.90,177.34 L104.87,175.95 L105.84,174.57 L106.81,173.18 L107.78,171.80 L108.75,170.42 L109.72,169.04 L110.69,167.66 L111.66,166.28 L112.63,164.91 L113.60,163.54 L114.57,162.17 L115.54,160.80 L116.51,159.44 L117.48,158.08 L118.45,156.72 L119.42,155.36 L120.39,154.01 L121.36,152.66 L122.33,151.31 L123.30,149.97 L124.27,148.63 L125.24,147.30 L126.21,145.96 L127.18,144.64 L128.15,143.31 L129.12,141.99 L130.09,140.68 L131.06,139.36 L132.03,138.06 L133.00,136.76 L133.97,135.47 L134.95,134.18 L135.92,132.90 L136.89,131.62 L137.86,130.35 L138.83,129.09 L139.80,127.84 L140.77,126.60 L141.74,125.36 L142.71,124.14 L143.68,122.92 L144.65,121.72 L145.62,120.52 L146.59,119.34 L147.56,118.17 L148.53,117.01 L149.50,115.86 L150.47,114.73 L151.44,113.61 L152.41,112.51 L153.38,111.42 L154.35,110.35 L155.32,109.29 L156.29,108.25 L157.26,107.22 L158.23,106.22 L159.20,105.23 L160.17,104.26 L161.14,103.30 L162.11,102.37 L163.08,101.46 L164.05,100.57 L165.02,99.69 L165.99,98.84 L166.96,98.02 L167.93,97.21 L168.90,96.43 L169.87,95.67 L170.84,94.93 L171.81,94.22 L172.78,93.53 L173.75,92.87 L174.72,92.23 L175.69,91.63 L176.66,91.04 L177.63,90.49 L178.61,89.96 L179.58,89.46 L180.55,88.99 L181.52,88.55 L182.49,88.14 L183.46,87.76 L184.43,87.41 L185.40,87.09 L186.37,86.80 L187.34,86.55 L188.31,86.32 L189.28,86.13 L190.25,85.98 L191.22,85.85 L192.19,85.76 L193.16,85.71 L194.13,85.68 L195.10,85.69 L196.07,85.73 L197.04,85.81 L198.01,85.91 L198.98,86.05 L199.95,86.23 L200.92,86.44 L201.89,86.68 L202.86,86.95 L203.83,87.26 L204.80,87.60 L205.77,87.97 L206.74,88.38 L207.71,88.82 L208.68,89.29 L209.65,89.80 L210.62,90.34 L211.59,90.92 L212.56,91.53 L213.53,92.17 L214.50,92.84 L215.47,93.55 L216.44,94.30 L217.41,95.07 L218.38,95.88 L219.35,96.73 L220.32,97.61 L221.29,98.52 L222.26,99.46 L223.24,100.44 L224.21,101.45 L225.18,102.50 L226.15,103.58 L227.12,104.70 L228.09,105.85 L229.06,107.03 L230.03,108.24 L231.00,109.48 L231.97,110.76 L232.94,112.06 L233.91,113.40 L234.88,114.76 L235.85,116.15 L236.82,117.57 L237.79,119.01 L238.76,120.47 L239.73,121.95 L240.70,123.46 L241.67,124.98 L242.64,126.52 L243.61,128.07 L244.58,129.64 L245.55,131.23 L246.52,132.82 L247.49,134.43 L248.46,136.05 L249.43,137.67 L250.40,139.30 L251.37,140.94 L252.34,142.58 L253.31,144.23 L254.28,145.87 L255.25,147.52 L256.22,149.16 L257.19,150.80 L258.16,152.43 L259.13,154.06 L260.10,155.69 L261.07,157.30 L262.04,158.90 L263.01,160.50 L263.98,162.08 L264.95,163.67 L265.92,165.25 L266.89,166.84 L267.87,168.44 L268.84,170.05 L269.81,171.67 L270.78,173.32 L271.75,174.99 L272.72,176.68 L273.69,178.40 L274.66,180.13 L275.63,181.87 L276.60,183.59 L277.57,185.28 L278.54,186.94 L279.51,188.55 L280.48,190.12 L281.45,191.65 L282.42,193.14 L283.39,194.59 L284.36,196.00 L285.33,197.38 L286.30,198.72 L287.27,200.02 L288.24,201.30 L289.21,202.54 L290.18,203.75 L291.15,204.93 L292.12,206.09 L293.09,207.21 L294.06,208.31 L295.03,209.39 L296.00,210.44 L296.97,211.47 L297.94,212.47 L298.91,213.44 L299.88,214.37 L300.85,215.26 L301.82,216.11 L302.79,216.91 L303.76,217.68 L304.73,218.40 L305.70,219.09 L306.67,219.74 L307.64,220.36 L308.61,220.94 L309.58,221.49 L310.55,222.00 L311.53,222.49 L312.50,222.94 L313.47,223.37 L314.44,223.76 L315.41,224.13 L316.38,224.48 L317.35,224.80 L318.32,225.09 L319.29,225.36 L320.26,225.61 L321.23,225.85 L322.20,226.06 L323.17,226.25 L324.14,226.43 L325.11,226.59 L326.08,226.74 L327.05,226.87 L328.02,226.99 L328.99,227.10 L329.96,227.20 L330.93,227.30 L331.90,227.38 L332.87,227.46 L333.84,227.53 L334.81,227.59 L335.78,227.65 L336.75,227.71 L337.72,227.76 L338.69,227.81 L339.66,227.86 L340.63,227.90 L341.60,227.94 L342.57,227.98 L343.54,228.01 L344.51,228.05 L345.48,228.07 L346.45,228.10 L347.42,228.13 L348.39,228.15 L349.36,228.17 L350.33,228.19 L351.30,228.21 L352.27,228.23 L353.24,228.24 L354.21,228.26 L355.18,228.27 L356.16,228.28 L357.13,228.29 L358.10,228.30 L359.07,228.32 L360.04,228.32 L361.01,228.33 L361.98,228.34 L362.95,228.35 L363.92,228.36 L364.89,228.37 L365.86,228.37 L366.83,228.37 L367.80,228.37 L368.77,228.38 L369.74,228.38 L370.71,228.39 L371.68,228.40 L372.65,228.41 L373.62,228.42 L374.59,228.44 L375.56,228.46 L376.53,228.48 L377.50,228.50"/>
<path class="g" d="M68.00,228.50 L68.97,227.15 L69.94,225.79 L70.91,224.44 L71.88,223.07 L72.85,221.71 L73.82,220.34 L74.79,218.97 L75.76,217.60 L76.73,216.22 L77.70,214.85 L78.67,213.46 L79.64,212.08 L80.61,210.70 L81.58,209.31 L82.55,207.92 L83.52,206.53 L84.49,205.14 L85.46,203.75 L86.43,202.35 L87.40,200.96 L88.37,199.56 L89.34,198.17 L90.32,196.77 L91.29,195.37 L92.26,193.97 L93.23,192.57 L94.20,191.17 L95.17,189.77 L96.14,188.38 L97.11,186.98 L98.08,185.58 L99.05,184.18 L100.02,182.78 L100.99,181.38 L101.96,179.99 L102.93,178.59 L103.90,177.20 L104.87,175.81 L105.84,174.42 L106.81,173.03 L107.78,171.64 L108.75,170.25 L109.72,168.87 L110.69,167.49 L111.66,166.11 L112.63,164.73 L113.60,163.35 L114.57,161.98 L115.54,160.61 L116.51,159.24 L117.48,157.88 L118.45,156.52 L119.42,155.16 L120.39,153.81 L121.36,152.46 L122.33,151.11 L123.30,149.77 L124.27,148.43 L125.24,147.09 L126.21,145.76 L127.18,144.43 L128.15,143.11 L129.12,141.80 L130.09,140.48 L131.06,139.18 L132.03,137.87 L133.00,136.58 L133.97,135.29 L134.95,134.00 L135.92,132.72 L136.89,131.45 L137.86,130.19 L138.83,128.93 L139.80,127.68 L140.77,126.44 L141.74,125.21 L142.71,123.98 L143.68,122.77 L144.65,121.56 L145.62,120.37 L146.59,119.19 L147.56,118.02 L148.53,116.86 L149.50,115.72 L150.47,114.59 L151.44,113.47 L152.41,112.37 L153.38,111.28 L154.35,110.21 L155.32,109.15 L156.29,108.11 L157.26,107.09 L158.23,106.08 L159.20,105.09 L160.17,104.13 L161.14,103.18 L162.11,102.25 L163.08,101.34 L164.05,100.45 L165.02,99.58 L165.99,98.74 L166.96,97.91 L167.93,97.11 L168.90,96.33 L169.87,95.58 L170.84,94.85 L171.81,94.15 L172.78,93.47 L173.75,92.82 L174.72,92.19 L175.69,91.59 L176.66,91.02 L177.63,90.47 L178.61,89.96 L179.58,89.47 L180.55,89.02 L181.52,88.59 L182.49,88.19 L183.46,87.83 L184.43,87.50 L185.40,87.19 L186.37,86.93 L187.34,86.69 L188.31,86.49 L189.28,86.32 L190.25,86.19 L191.22,86.09 L192.19,86.03 L193.16,85.99 L194.13,86.00 L195.10,86.04 L196.07,86.11 L197.04,86.21 L198.01,86.35 L198.98,86.53 L199.95,86.74 L200.92,86.98 L201.89,87.26 L202.86,87.57 L203.83,87.91 L204.80,88.29 L205.77,88.71 L206.74,89.15 L207.71,89.64 L208.68,90.15 L209.65,90.70 L210.62,91.28 L211.59,91.90 L212.56,92.55 L213.53,93.24 L214.50,93.96 L215.47,94.71 L216.44,95.50 L217.41,96.32 L218.38,97.18 L219.35,98.07 L220.32,99.00 L221.29,99.95 L222.26,100.95 L223.24,101.97 L224.21,103.03 L225.18,104.13 L226.15,105.25 L227.12,106.42 L228.09,107.61 L229.06,108.83 L230.03,110.09 L231.00,111.38 L231.97,112.70 L232.94,114.04 L233.91,115.42 L234.88,116.82 L235.85,118.25 L236.82,119.70 L237.79,121.17 L238.76,122.67 L239.73,124.19 L240.70,125.73 L241.67,127.28 L242.64,128.86 L243.61,130.45 L244.58,132.06 L245.55,133.68 L246.52,135.31 L247.49,136.96 L248.46,138.62 L249.43,140.29 L250.40,141.97 L251.37,143.65 L252.34,145.35 L253.31,147.04 L254.28,148.74 L255.25,150.44 L256.22,152.15 L257.19,153.85 L258.16,155.55 L259.13,157.25 L260.10,158.94 L261.07,160.63 L262.04,162.31 L263.01,163.98 L263.98,165.65 L264.95,167.31 L265.92,168.97 L266.89,170.63 L267.87,172.28 L268.84,173.94 L269.81,175.60 L270.78,177.26 L271.75,178.92 L272.72,180.60 L273.69,182.27 L274.66,183.94 L275.63,185.61 L276.60,187.26 L277.57,188.88 L278.54,190.47 L279.51,192.03 L280.48,193.56 L281.45,195.05 L282.42,196.50 L283.39,197.93 L284.36,199.31 L285.33,200.67 L286.30,201.99 L287.27,203.28 L288.24,204.54 L289.21,205.76 L290.18,206.95 L291.15,208.10 L292.12,209.23 L293.09,210.32 L294.06,211.37 L295.03,212.40 L296.00,213.39 L296.97,214.35 L297.94,215.27 L298.91,216.16 L299.88,217.01 L300.85,217.81 L301.82,218.57 L302.79,219.29 L303.76,219.97 L304.73,220.62 L305.70,221.22 L306.67,221.79 L307.64,222.33 L308.61,222.83 L309.58,223.30 L310.55,223.74 L311.53,224.15 L312.50,224.53 L313.47,224.88 L314.44,225.20 L315.41,225.50 L316.38,225.77 L317.35,226.02 L318.32,226.25 L319.29,226.46 L320.26,226.64 L321.23,226.81 L322.20,226.96 L323.17,227.10 L324.14,227.22 L325.11,227.32 L326.08,227.42 L327.05,227.50 L328.02,227.57 L328.99,227.63 L329.96,227.68 L330.93,227.73 L331.90,227.77 L332.87,227.80 L333.84,227.83 L334.81,227.86 L335.78,227.89 L336.75,227.92 L337.72,227.94 L338.69,227.97 L339.66,227.99 L340.63,228.01 L341.60,228.03 L342.57,228.05 L343.54,228.07 L344.51,228.09 L345.48,228.11 L346.45,228.13 L347.42,228.15 L348.39,228.17 L349.36,228.18 L350.33,228.20 L351.30,228.22 L352.27,228.24 L353.24,228.25 L354.21,228.27 L355.18,228.29 L356.16,228.30 L357.13,228.32 L358.10,228.34 L359.07,228.35 L360.04,228.37 L361.01,228.38 L361.98,228.40 L362.95,228.41 L363.92,228.42 L364.89,228.43 L365.86,228.43 L366.83,228.43 L367.80,228.43 L368.77,228.44 L369.74,228.44 L370.71,228.44 L371.68,228.45 L372.65,228.45 L373.62,228.46 L374.59,228.47 L375.56,228.48 L376.53,228.49 L377.50,228.50"/>
<path class="g" d="M68.00,228.50 L68.97,227.15 L69.94,225.80 L70.91,224.44 L71.88,223.08 L72.85,221.71 L73.82,220.34 L74.79,218.97 L75.76,217.60 L76.73,216.22 L77.70,214.84 L78.67,213.46 L79.64,212.08 L80.61,210.69 L81.58,209.30 L82.55,207.91 L83.52,206.52 L84.49,205.13 L85.46,203.73 L86.43,202.34 L87.40,200.94 L88.37,199.54 L89.34,198.14 L90.32,196.74 L91.29,195.34 L92.26,193.94 L93.23,192.53 L94.20,191.13 L95.17,189.73 L96.14,188.33 L97.11,186.93 L98.08,185.52 L99.05,184.12 L100.02,182.72 L100.99,181.32 L101.96,179.92 L102.93,178.53 L103.90,177.13 L104.87,175.73 L105.84,174.34 L106.81,172.95 L107.78,171.56 L108.75,170.17 L109.72,168.78 L110.69,167.40 L111.66,166.01 L112.63,164.63 L113.60,163.26 L114.57,161.88 L115.54,160.51 L116.51,159.14 L117.48,157.78 L118.45,156.42 L119.42,155.06 L120.39,153.70 L121.36,152.35 L122.33,151.00 L123.30,149.66 L124.27,148.32 L125.24,146.99 L126.21,145.66 L127.18,144.33 L128.15,143.01 L129.12,141.69 L130.09,140.38 L131.06,139.08 L132.03,137.78 L133.00,136.48 L133.97,135.19 L134.95,133.91 L135.92,132.63 L136.89,131.36 L137.86,130.10 L138.83,128.85 L139.80,127.60 L140.77,126.36 L141.74,125.12 L142.71,123.90 L143.68,122.69 L144.65,121.48 L145.62,120.29 L146.59,119.11 L147.56,117.94 L148.53,116.79 L149.50,115.64 L150.47,114.51 L151.44,113.39 L152.41,112.29 L153.38,111.20 L154.35,110.13 L155.32,109.08 L156.29,108.04 L157.26,107.02 L158.23,106.01 L159.20,105.03 L160.17,104.06 L161.14,103.11 L162.11,102.18 L163.08,101.28 L164.05,100.39 L165.02,99.52 L165.99,98.68 L166.96,97.86 L167.93,97.06 L168.90,96.29 L169.87,95.54 L170.84,94.81 L171.81,94.11 L172.78,93.44 L173.75,92.79 L174.72,92.17 L175.69,91.57 L176.66,91.01 L177.63,90.47 L178.61,89.96 L179.58,89.48 L180.55,89.03 L181.52,88.61 L182.49,88.22 L183.46,87.87 L184.43,87.54 L185.40,87.25 L186.37,86.99 L187.34,86.77 L188.31,86.58 L189.28,86.42 L190.25,86.30 L191.22,86.21 L192.19,86.16 L193.16,86.14 L194.13,86.16 L195.10,86.22 L196.07,86.30 L197.04,86.43 L198.01,86.58 L198.98,86.78 L199.95,87.00 L200.92,87.26 L201.89,87.56 L202.86,87.89 L203.83,88.25 L204.80,88.65 L205.77,89.09 L206.74,89.56 L207.71,90.06 L208.68,90.60 L209.65,91.17 L210.62,91.77 L211.59,92.41 L212.56,93.09 L213.53,93.80 L214.50,94.54 L215.47,95.32 L216.44,96.13 L217.41,96.98 L218.38,97.86 L219.35,98.77 L220.32,99.72 L221.29,100.70 L222.26,101.72 L223.24,102.77 L224.21,103.85 L225.18,104.97 L226.15,106.12 L227.12,107.31 L228.09,108.53 L229.06,109.78 L230.03,111.05 L231.00,112.36 L231.97,113.70 L232.94,115.07 L233.91,116.47 L234.88,117.89 L235.85,119.33 L236.82,120.80 L237.79,122.30 L238.76,123.81 L239.73,125.35 L240.70,126.91 L241.67,128.48 L242.64,130.08 L243.61,131.69 L244.58,133.31 L245.55,134.96 L246.52,136.61 L247.49,138.28 L248.46,139.96 L249.43,141.65 L250.40,143.35 L251.37,145.06 L252.34,146.78 L253.31,148.51 L254.28,150.23 L255.25,151.97 L256.22,153.70 L257.19,155.44 L258.16,157.17 L259.13,158.90 L260.10,160.64 L261.07,162.36 L262.04,164.08 L263.01,165.80 L263.98,167.51 L264.95,169.21 L265.92,170.91 L266.89,172.60 L267.87,174.28 L268.84,175.96 L269.81,177.64 L270.78,179.31 L271.75,180.97 L272.72,182.63 L273.69,184.28 L274.66,185.93 L275.63,187.55 L276.60,189.16 L277.57,190.75 L278.54,192.31 L279.51,193.84 L280.48,195.34 L281.45,196.81 L282.42,198.25 L283.39,199.66 L284.36,201.04 L285.33,202.38 L286.30,203.70 L287.27,204.97 L288.24,206.22 L289.21,207.43 L290.18,208.61 L291.15,209.75 L292.12,210.86 L293.09,211.93 L294.06,212.97 L295.03,213.96 L296.00,214.93 L296.97,215.85 L297.94,216.73 L298.91,217.57 L299.88,218.38 L300.85,219.13 L301.82,219.85 L302.79,220.53 L303.76,221.17 L304.73,221.77 L305.70,222.33 L306.67,222.86 L307.64,223.35 L308.61,223.81 L309.58,224.24 L310.55,224.64 L311.53,225.01 L312.50,225.35 L313.47,225.66 L314.44,225.95 L315.41,226.21 L316.38,226.45 L317.35,226.66 L318.32,226.85 L319.29,227.03 L320.26,227.18 L321.23,227.32 L322.20,227.43 L323.17,227.54 L324.14,227.63 L325.11,227.70 L326.08,227.77 L327.05,227.82 L328.02,227.86 L328.99,227.90 L329.96,227.93 L330.93,227.95 L331.90,227.97 L332.87,227.98 L333.84,227.99 L334.81,228.01 L335.78,228.02 L336.75,228.03 L337.72,228.04 L338.69,228.05 L339.66,228.06 L340.63,228.07 L341.60,228.08 L342.57,228.09 L343.54,228.11 L344.51,228.12 L345.48,228.13 L346.45,228.15 L347.42,228.16 L348.39,228.18 L349.36,228.19 L350.33,228.21 L351.30,228.22 L352.27,228.24 L353.24,228.26 L354.21,228.28 L355.18,228.30 L356.16,228.32 L357.13,228.34 L358.10,228.35 L359.07,228.37 L360.04,228.39 L361.01,228.41 L361.98,228.42 L362.95,228.44 L363.92,228.45 L364.89,228.46 L365.86,228.46 L366.83,228.46 L367.80,228.47 L368.77,228.47 L369.74,228.47 L370.71,228.47 L371.68,228.47 L372.65,228.48 L373.62,228.48 L374.59,228.48 L375.56,228.49 L376.53,228.49 L377.50,228.50"/>
<path class="g" d="M68.00,228.50 L68.97,227.15 L69.94,225.80 L70.91,224.44 L71.88,223.08 L72.85,221.71 L73.82,220.34 L74.79,218.97 L75.76,217.60 L76.73,216.22 L77.70,214.84 L78.67,213.46 L79.64,212.07 L80.61,210.69 L81.58,209.30 L82.55,207.91 L83.52,206.51 L84.49,205.12 L85.46,203.72 L86.43,202.33 L87.40,200.93 L88.37,199.53 L89.34,198.12 L90.32,196.72 L91.29,195.32 L92.26,193.92 L93.23,192.51 L94.20,191.11 L95.17,189.71 L96.14,188.30 L97.11,186.90 L98.08,185.49 L99.05,184.09 L100.02,182.69 L100.99,181.29 L101.96,179.89 L102.93,178.49 L103.90,177.09 L104.87,175.69 L105.84,174.30 L106.81,172.90 L107.78,171.51 L108.75,170.12 L109.72,168.73 L110.69,167.35 L111.66,165.96 L112.63,164.58 L113.60,163.21 L114.57,161.83 L115.54,160.46 L116.51,159.09 L117.48,157.72 L118.45,156.36 L119.42,155.00 L120.39,153.65 L121.36,152.29 L122.33,150.95 L123.30,149.60 L124.27,148.26 L125.24,146.93 L126.21,145.60 L127.18,144.27 L128.15,142.95 L129.12,141.64 L130.09,140.33 L131.06,139.02 L132.03,137.72 L133.00,136.43 L133.97,135.14 L134.95,133.86 L135.92,132.59 L136.89,131.32 L137.86,130.05 L138.83,128.80 L139.80,127.55 L140.77,126.31 L141.74,125.08 L142.71,123.86 L143.68,122.64 L144.65,121.44 L145.62,120.25 L146.59,119.07 L147.56,117.90 L148.53,116.74 L149.50,115.60 L150.47,114.47 L151.44,113.35 L152.41,112.25 L153.38,111.16 L154.35,110.09 L155.32,109.04 L156.29,108.00 L157.26,106.98 L158.23,105.97 L159.20,104.99 L160.17,104.02 L161.14,103.08 L162.11,102.15 L163.08,101.24 L164.05,100.36 L165.02,99.49 L165.99,98.65 L166.96,97.83 L167.93,97.03 L168.90,96.26 L169.87,95.51 L170.84,94.79 L171.81,94.09 L172.78,93.42 L173.75,92.77 L174.72,92.15 L175.69,91.56 L176.66,91.00 L177.63,90.46 L178.61,89.96 L179.58,89.48 L180.55,89.04 L181.52,88.62 L182.49,88.24 L183.46,87.89 L184.43,87.57 L185.40,87.28 L186.37,87.03 L187.34,86.81 L188.31,86.62 L189.28,86.47 L190.25,86.36 L191.22,86.28 L192.19,86.23 L193.16,86.23 L194.13,86.25 L195.10,86.31 L196.07,86.41 L197.04,86.54 L198.01,86.71 L198.98,86.91 L199.95,87.14 L200.92,87.42 L201.89,87.72 L202.86,88.06 L203.83,88.44 L204.80,88.85 L205.77,89.29 L206.74,89.77 L207.71,90.29 L208.68,90.84 L209.65,91.42 L210.62,92.04 L211.59,92.69 L212.56,93.38 L213.53,94.10 L214.50,94.85 L215.47,95.64 L216.44,96.47 L217.41,97.33 L218.38,98.22 L219.35,99.15 L220.32,100.11 L221.29,101.10 L222.26,102.13 L223.24,103.20 L224.21,104.29 L225.18,105.43 L226.15,106.59 L227.12,107.79 L228.09,109.02 L229.06,110.28 L230.03,111.57 L231.00,112.90 L231.97,114.25 L232.94,115.63 L233.91,117.03 L234.88,118.46 L235.85,119.92 L236.82,121.40 L237.79,122.90 L238.76,124.43 L239.73,125.97 L240.70,127.54 L241.67,129.13 L242.64,130.73 L243.61,132.35 L244.58,133.99 L245.55,135.64 L246.52,137.31 L247.49,138.99 L248.46,140.68 L249.43,142.39 L250.40,144.10 L251.37,145.82 L252.34,147.56 L253.31,149.29 L254.28,151.04 L255.25,152.79 L256.22,154.54 L257.19,156.29 L258.16,158.04 L259.13,159.80 L260.10,161.55 L261.07,163.29 L262.04,165.04 L263.01,166.77 L263.98,168.51 L264.95,170.23 L265.92,171.95 L266.89,173.66 L267.87,175.36 L268.84,177.05 L269.81,178.74 L270.78,180.41 L271.75,182.07 L272.72,183.73 L273.69,185.37 L274.66,186.99 L275.63,188.60 L276.60,190.19 L277.57,191.76 L278.54,193.30 L279.51,194.82 L280.48,196.30 L281.45,197.76 L282.42,199.19 L283.39,200.60 L284.36,201.97 L285.33,203.31 L286.30,204.61 L287.27,205.89 L288.24,207.13 L289.21,208.33 L290.18,209.51 L291.15,210.64 L292.12,211.74 L293.09,212.80 L294.06,213.82 L295.03,214.81 L296.00,215.75 L296.97,216.66 L297.94,217.52 L298.91,218.34 L299.88,219.11 L300.85,219.85 L301.82,220.54 L302.79,221.20 L303.76,221.81 L304.73,222.39 L305.70,222.93 L306.67,223.43 L307.64,223.91 L308.61,224.34 L309.58,224.75 L310.55,225.13 L311.53,225.47 L312.50,225.79 L313.47,226.09 L314.44,226.35 L315.41,226.59 L316.38,226.81 L317.35,227.01 L318.32,227.18 L319.29,227.33 L320.26,227.47 L321.23,227.59 L322.20,227.69 L323.17,227.78 L324.14,227.85 L325.11,227.91 L326.08,227.96 L327.05,228.00 L328.02,228.02 L328.99,228.05 L329.96,228.06 L330.93,228.07 L331.90,228.08 L332.87,228.08 L333.84,228.08 L334.81,228.08 L335.78,228.08 L336.75,228.08 L337.72,228.09 L338.69,228.09 L339.66,228.10 L340.63,228.10 L341.60,228.11 L342.57,228.11 L343.54,228.12 L344.51,228.13 L345.48,228.14 L346.45,228.15 L347.42,228.17 L348.39,228.18 L349.36,228.20 L350.33,228.21 L351.30,228.23 L352.27,228.25 L353.24,228.26 L354.21,228.28 L355.18,228.30 L356.16,228.32 L357.13,228.34 L358.10,228.36 L359.07,228.38 L360.04,228.40 L361.01,228.42 L361.98,228.44 L362.95,228.46 L363.92,228.47 L364.89,228.48 L365.86,228.48 L366.83,228.48 L367.80,228.48 L368.77,228.48 L369.74,228.48 L370.71,228.49 L371.68,228.49 L372.65,228.49 L373.62,228.49 L374.59,228.49 L375.56,228.49 L376.53,228.50 L377.50,228.50"/>
<path d="M68.00,228.50 L68.97,227.15 L69.94,225.80 L70.91,224.44 L71.88,223.08 L72.85,221.71 L73.82,220.35 L74.79,218.97 L75.76,217.60 L76.73,216.22 L77.70,214.84 L78.67,213.46 L79.64,212.07 L80.61,210.68 L81.58,209.29 L82.55,207.90 L83.52,206.51 L84.49,205.11 L85.46,203.71 L86.43,202.31 L87.40,200.91 L88.37,199.51 L89.34,198.11 L90.32,196.71 L91.29,195.30 L92.26,193.90 L93.23,192.49 L94.20,191.09 L95.17,189.68 L96.14,188.28 L97.11,186.87 L98.08,185.47 L99.05,184.06 L100.02,182.66 L100.99,181.25 L101.96,179.85 L102.93,178.45 L103.90,177.05 L104.87,175.65 L105.84,174.26 L106.81,172.86 L107.78,171.47 L108.75,170.08 L109.72,168.69 L110.69,167.30 L111.66,165.91 L112.63,164.53 L113.60,163.15 L114.57,161.78 L115.54,160.40 L116.51,159.03 L117.48,157.67 L118.45,156.30 L119.42,154.94 L120.39,153.59 L121.36,152.24 L122.33,150.89 L123.30,149.55 L124.27,148.21 L125.24,146.87 L126.21,145.54 L127.18,144.22 L128.15,142.90 L129.12,141.58 L130.09,140.27 L131.06,138.97 L132.03,137.67 L133.00,136.38 L133.97,135.09 L134.95,133.81 L135.92,132.54 L136.89,131.27 L137.86,130.01 L138.83,128.75 L139.80,127.51 L140.77,126.27 L141.74,125.04 L142.71,123.81 L143.68,122.60 L144.65,121.40 L145.62,120.21 L146.59,119.03 L147.56,117.86 L148.53,116.70 L149.50,115.56 L150.47,114.43 L151.44,113.31 L152.41,112.21 L153.38,111.12 L154.35,110.05 L155.32,109.00 L156.29,107.96 L157.26,106.94 L158.23,105.94 L159.20,104.95 L160.17,103.99 L161.14,103.04 L162.11,102.11 L163.08,101.21 L164.05,100.32 L165.02,99.46 L165.99,98.62 L166.96,97.80 L167.93,97.01 L168.90,96.24 L169.87,95.49 L170.84,94.77 L171.81,94.07 L172.78,93.40 L173.75,92.76 L174.72,92.14 L175.69,91.55 L176.66,90.99 L177.63,90.46 L178.61,89.96 L179.58,89.49 L180.55,89.04 L181.52,88.63 L182.49,88.25 L183.46,87.91 L184.43,87.59 L185.40,87.31 L186.37,87.06 L187.34,86.85 L188.31,86.67 L189.28,86.52 L190.25,86.42 L191.22,86.34 L192.19,86.31 L193.16,86.31 L194.13,86.34 L195.10,86.41 L196.07,86.52 L197.04,86.66 L198.01,86.83 L198.98,87.04 L199.95,87.29 L200.92,87.57 L201.89,87.88 L202.86,88.24 L203.83,88.62 L204.80,89.04 L205.77,89.50 L206.74,89.99 L207.71,90.51 L208.68,91.08 L209.65,91.67 L210.62,92.30 L211.59,92.96 L212.56,93.66 L213.53,94.40 L214.50,95.17 L215.47,95.97 L216.44,96.80 L217.41,97.68 L218.38,98.58 L219.35,99.52 L220.32,100.50 L221.29,101.50 L222.26,102.55 L223.24,103.62 L224.21,104.73 L225.18,105.88 L226.15,107.06 L227.12,108.27 L228.09,109.51 L229.06,110.79 L230.03,112.09 L231.00,113.43 L231.97,114.79 L232.94,116.18 L233.91,117.60 L234.88,119.04 L235.85,120.50 L236.82,121.99 L237.79,123.51 L238.76,125.04 L239.73,126.60 L240.70,128.18 L241.67,129.77 L242.64,131.39 L243.61,133.02 L244.58,134.67 L245.55,136.33 L246.52,138.01 L247.49,139.70 L248.46,141.40 L249.43,143.12 L250.40,144.85 L251.37,146.58 L252.34,148.33 L253.31,150.08 L254.28,151.84 L255.25,153.61 L256.22,155.37 L257.19,157.14 L258.16,158.92 L259.13,160.69 L260.10,162.46 L261.07,164.23 L262.04,165.99 L263.01,167.75 L263.98,169.50 L264.95,171.25 L265.92,172.99 L266.89,174.72 L267.87,176.44 L268.84,178.14 L269.81,179.84 L270.78,181.51 L271.75,183.18 L272.72,184.82 L273.69,186.45 L274.66,188.06 L275.63,189.65 L276.60,191.22 L277.57,192.77 L278.54,194.29 L279.51,195.79 L280.48,197.27 L281.45,198.72 L282.42,200.14 L283.39,201.53 L284.36,202.89 L285.33,204.23 L286.30,205.53 L287.27,206.80 L288.24,208.03 L289.21,209.24 L290.18,210.40 L291.15,211.53 L292.12,212.62 L293.09,213.67 L294.06,214.68 L295.03,215.65 L296.00,216.58 L296.97,217.46 L297.94,218.30 L298.91,219.10 L299.88,219.85 L300.85,220.56 L301.82,221.23 L302.79,221.86 L303.76,222.45 L304.73,223.01 L305.70,223.52 L306.67,224.01 L307.64,224.46 L308.61,224.87 L309.58,225.26 L310.55,225.61 L311.53,225.94 L312.50,226.24 L313.47,226.51 L314.44,226.75 L315.41,226.97 L316.38,227.17 L317.35,227.35 L318.32,227.50 L319.29,227.64 L320.26,227.76 L321.23,227.86 L322.20,227.94 L323.17,228.01 L324.14,228.07 L325.11,228.11 L326.08,228.15 L327.05,228.17 L328.02,228.18 L328.99,228.19 L329.96,228.19 L330.93,228.19 L331.90,228.19 L332.87,228.18" fill="none" stroke="#1c32c8" stroke-width="1.3"/>
<path d="M68.00,228.50 L68.97,227.31 L69.94,226.11 L70.91,224.90 L71.88,223.70 L72.85,222.48 L73.82,221.27 L74.79,220.05 L75.76,218.83 L76.73,217.60 L77.70,216.38 L78.67,215.15 L79.64,213.92 L80.61,212.69 L81.58,211.45 L82.55,210.22 L83.52,208.98 L84.49,207.75 L85.46,206.51 L86.43,205.28 L87.40,204.04 L88.37,202.81 L89.34,201.58 L90.32,200.35 L91.29,199.12 L92.26,197.89 L93.23,196.67 L94.20,195.45 L95.17,194.23 L96.14,193.01 L97.11,191.80 L98.08,190.59 L99.05,189.39 L100.02,188.19 L100.99,187.00 L101.96,185.81 L102.93,184.63 L103.90,183.46 L104.87,182.29 L105.84,181.12 L106.81,179.97 L107.78,178.82 L108.75,177.67 L109.72,176.54 L110.69,175.41 L111.66,174.30 L112.63,173.19 L113.60,172.09 L114.57,170.99 L115.54,169.91 L116.51,168.84 L117.48,167.78 L118.45,166.73 L119.42,165.69 L120.39,164.66 L121.36,163.64 L122.33,162.64 L123.30,161.64 L124.27,160.66 L125.24,159.69 L126.21,158.74 L127.18,157.80 L128.15,156.87 L129.12,155.95 L130.09,155.05 L131.06,154.17 L132.03,153.30 L133.00,152.44 L133.97,151.60 L134.95,150.78 L135.92,149.97 L136.89,149.17 L137.86,148.40 L138.83,147.64 L139.80,146.90 L140.77,146.18 L141.74,145.47 L142.71,144.78 L143.68,144.11 L144.65,143.46 L145.62,142.83 L146.59,142.22 L147.56,141.62 L148.53,141.04 L149.50,140.49 L150.47,139.95 L151.44,139.43 L152.41,138.93 L153.38,138.45 L154.35,138.00 L155.32,137.56 L156.29,137.14 L157.26,136.74 L158.23,136.36 L159.20,136.01 L160.17,135.67 L161.14,135.36 L162.11,135.07 L163.08,134.80 L164.05,134.55 L165.02,134.32 L165.99,134.12 L166.96,133.93 L167.93,133.77 L168.90,133.63 L169.87,133.52 L170.84,133.43 L171.81,133.36 L172.78,133.31 L173.75,133.29 L174.72,133.29 L175.69,133.31 L176.66,133.36 L177.63,133.43 L178.61,133.53 L179.58,133.65 L180.55,133.80 L181.52,133.97 L182.49,134.16 L183.46,134.38 L184.43,134.63 L185.40,134.90 L186.37,135.20 L187.34,135.52 L188.31,135.87 L189.28,136.24 L190.25,136.64 L191.22,137.06 L192.19,137.50 L193.16,137.97 L194.13,138.46 L195.10,138.98 L196.07,139.52 L197.04,140.08 L198.01,140.66 L198.98,141.27 L199.95,141.89 L200.92,142.54 L201.89,143.20 L202.86,143.89 L203.83,144.60 L204.80,145.32 L205.77,146.07 L206.74,146.84 L207.71,147.62 L208.68,148.42 L209.65,149.24 L210.62,150.08 L211.59,150.93 L212.56,151.80 L213.53,152.69 L214.50,153.59 L215.47,154.51 L216.44,155.45 L217.41,156.40 L218.38,157.36 L219.35,158.34 L220.32,159.33 L221.29,160.34 L222.26,161.36 L223.24,162.39 L224.21,163.44 L225.18,164.50 L226.15,165.57 L227.12,166.65 L228.09,167.75 L229.06,168.85 L230.03,169.97 L231.00,171.09 L231.97,172.22 L232.94,173.36 L233.91,174.51 L234.88,175.66 L235.85,176.82 L236.82,177.98 L237.79,179.14 L238.76,180.31 L239.73,181.47 L240.70,182.64 L241.67,183.81 L242.64,184.98 L243.61,186.14 L244.58,187.30 L245.55,188.46 L246.52,189.62 L247.49,190.76 L248.46,191.91 L249.43,193.04 L250.40,194.17 L251.37,195.29 L252.34,196.40 L253.31,197.49 L254.28,198.58 L255.25,199.66 L256.22,200.72 L257.19,201.77 L258.16,202.80 L259.13,203.82 L260.10,204.82 L261.07,205.81 L262.04,206.77 L263.01,207.72 L263.98,208.65 L264.95,209.56 L265.92,210.44 L266.89,211.31 L267.87,212.15 L268.84,212.97 L269.81,213.76 L270.78,214.53 L271.75,215.27 L272.72,215.98 L273.69,216.67 L274.66,217.33 L275.63,217.96 L276.60,218.58 L277.57,219.16 L278.54,219.73 L279.51,220.27 L280.48,220.79 L281.45,221.28 L282.42,221.76 L283.39,222.21 L284.36,222.64 L285.33,223.06 L286.30,223.45 L287.27,223.82 L288.24,224.18 L289.21,224.51 L290.18,224.83 L291.15,225.13 L292.12,225.42 L293.09,225.68 L294.06,225.94 L295.03,226.17 L296.00,226.40 L296.97,226.60 L297.94,226.80 L298.91,226.98 L299.88,227.15 L300.85,227.30 L301.82,227.45 L302.79,227.58 L303.76,227.70 L304.73,227.82 L305.70,227.92 L306.67,228.01 L307.64,228.10 L308.61,228.17 L309.58,228.24 L310.55,228.30 L311.53,228.35 L312.50,228.40 L313.47,228.44 L314.44,228.48 L315.41,228.50 L316.38,228.50 L317.35,228.50 L318.32,228.50 L319.29,228.50 L320.26,228.50 L321.23,228.50 L322.20,228.50 L323.17,228.50 L324.14,228.50 L325.11,228.50 L326.08,228.50 L327.05,228.50 L328.02,228.50 L328.99,228.50 L329.96,228.50 L330.93,228.50 L331.90,228.50 L332.87,228.50 L333.84,228.50 L334.81,228.50 L335.78,228.50 L336.75,228.50 L337.72,228.50 L338.69,228.50 L339.66,228.50 L340.63,228.50 L341.60,228.50 L342.57,228.50 L343.54,228.50 L344.51,228.50 L345.48,228.50 L346.45,228.50 L347.42,228.49 L348.39,228.47 L349.36,228.46 L350.33,228.45 L351.30,228.44 L352.27,228.42 L353.24,228.41 L354.21,228.40 L355.18,228.39 L356.16,228.38 L357.13,228.37 L358.10,228.37 L359.07,228.36 L360.04,228.35 L361.01,228.35 L361.98,228.35 L362.95,228.34 L363.92,228.34 L364.89,228.34 L365.86,228.34 L366.83,228.35 L367.80,228.35 L368.77,228.36 L369.74,228.37 L370.71,228.37 L371.68,228.39 L372.65,228.40 L373.62,228.42 L374.59,228.43 L375.56,228.45 L376.53,228.48 L377.50,228.50" fill="none" stroke="#2ac43e" stroke-width="1.05"/>
<g stroke="#000" stroke-width="1" fill="none">
<path d="M68,27.5 V228.5 H300"/>
<path d="M300,228.5 H377.5" stroke-opacity="0.82"/>
<path d="M68,188.30 h3.5"/>
<path d="M68,148.10 h3.5"/>
<path d="M68,107.90 h3.5"/>
<path d="M68,67.70 h3.5"/>
<path d="M68,27.50 h3.5"/>
<path d="M129.90,228.5 v-3.5"/>
<path d="M191.80,228.5 v-3.5"/>
<path d="M253.70,228.5 v-3.5"/>
<path d="M315.60,228.5 v-3.5"/>
<path d="M377.50,228.5 v-3.5"/>
</g>
<g style="filter:grayscale(1)">
<text class="t" x="60.1" y="233.10" text-anchor="end" letter-spacing="-0.3">0</text>
<text class="t" x="60.1" y="192.90" text-anchor="end" letter-spacing="-0.3">0.2</text>
<text class="t" x="60.1" y="152.70" text-anchor="end" letter-spacing="-0.3">0.4</text>
<text class="t" x="60.1" y="112.50" text-anchor="end" letter-spacing="-0.3">0.6</text>
<text class="t" x="60.1" y="72.30" text-anchor="end" letter-spacing="-0.3">0.8</text>
<text class="t" x="60.1" y="32.10" text-anchor="end" letter-spacing="-0.3">1</text>
<text class="t" x="69.40" y="246.8" text-anchor="middle">0</text>
<text class="t" x="131.30" y="246.8" text-anchor="middle">0.2</text>
<text class="t" x="193.20" y="246.8" text-anchor="middle">0.4</text>
<text class="t" x="255.10" y="246.8" text-anchor="middle">0.6</text>
<text class="t" x="317.00" y="246.8" text-anchor="middle">0.8</text>
<text class="t" x="378.90" y="246.8" text-anchor="middle">1</text>
<text class="t i" x="222.7" y="266" text-anchor="middle">q</text>
<text class="t i" transform="translate(18,128) rotate(-90)" text-anchor="middle">b</text>
<text class="t i" x="314.4" y="47.25">b<tspan class="s" x="321.2" y="51.75">1</tspan></text>
<text class="t i" y="60.1"><tspan x="252.6">b</tspan><tspan class="s" x="258" y="64.4">2</tspan><tspan x="266.8" y="60.1">,</tspan><tspan x="273.6">b</tspan><tspan class="s" x="279.2" y="64.4">3</tspan><tspan x="288.4" y="60.1">,...,</tspan><tspan x="308.8">b</tspan><tspan class="s" x="314.4" y="64.4">10</tspan></text>
<text class="t i" x="311.6" y="73.6">b<tspan class="s" x="318" y="77.8" style="font-size:10px">∞</tspan></text>
<text class="t" x="326.3" y="88.4" text-anchor="end" letter-spacing="0.7">bound</text>
</g>
<path d="M333.5,44.3 H369.7" fill="none" stroke="#ff4a22" stroke-width="1" stroke-dasharray="2.2 1.1"/>
<path class="g" d="M333.5,57.4 H369.7"/>
<path d="M333.5,70.9 H369.7" fill="none" stroke="#1c32c8" stroke-width="1.3"/>
<path d="M333.5,84.25 H369.7" fill="none" stroke="#2ac43e" stroke-width="1.05"/>
</svg>
</body></html>
